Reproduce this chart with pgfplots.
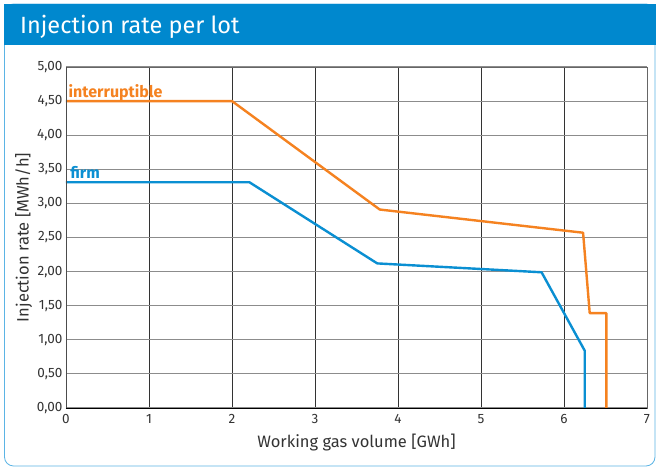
\documentclass[border=0pt]{standalone}
\usepackage{pgfplots}
\pgfplotsset{compat=1.18}
\usepackage{fontspec}
\setmainfont{Fira Sans}
\definecolor{hdrblue}{HTML}{0088CE}
\definecolor{brdblue}{HTML}{5BB4E5}
\definecolor{orng}{HTML}{F58220}
\definecolor{firmblue}{HTML}{0A8FD2}
\definecolor{txt}{HTML}{333333}
\begin{document}
\begin{tikzpicture}[x=1pt,y=1pt]
\useasboundingbox (0,0) rectangle (659,470);
\fill[white] (0,0) rectangle (659,470);
\draw[brdblue, line width=0.8pt, rounded corners=9pt] (4.5,4) rectangle (655,466);
\fill[hdrblue] (4,425) rectangle (655.5,466);
\node[anchor=base west, text=white, font=\fontsize{23.5}{27}\selectfont, inner sep=0pt] at (20,436) {Injection rate per lot};
\begin{axis}[
  at={(66pt,62pt)}, anchor=south west,
  scale only axis, width=581pt, height=341pt,
  xmin=0, xmax=7, ymin=0, ymax=5,
  xtick={0,1,...,7}, ytick={0,0.5,...,5},
  grid=major,
  x grid style={black!80, line width=0.6pt},
  y grid style={black!45, line width=1pt},
  axis line style={black!60, line width=0.8pt},
  tick style={draw=none},
  tick label style={text=txt, font=\fontsize{13.5}{16}\selectfont},
  /pgf/number format/assume math mode=true,
  yticklabel style={/pgf/number format/.cd, fixed, fixed zerofill, precision=2, use comma},
  xticklabel style={/pgf/number format/.cd, fixed, precision=0, /tikz/yshift=-3pt},
  xlabel={Working gas volume [GWh]},
  ylabel={Injection rate [MWh/h]},
  label style={text=txt, font=\fontsize{16.5}{19}\selectfont},
  xlabel style={yshift=-3pt},
  ylabel style={yshift=-2pt},
  clip=false,
]
\addplot[orng, line width=2.4pt, line join=round] coordinates {
  (0,4.5) (2.0,4.5) (3.78,2.91) (6.23,2.57) (6.31,1.39) (6.51,1.39) (6.51,0)};
\addplot[firmblue, line width=2.4pt, line join=round] coordinates {
  (0,3.31) (2.21,3.31) (3.75,2.12) (5.73,1.99) (6.25,0.84) (6.25,0)};
\node[anchor=base west, text=orng, font=\bfseries\fontsize{16}{19}\selectfont, inner sep=0pt] at (axis cs:0.03,4.55) {interruptible};
\node[anchor=base west, text=firmblue, font=\bfseries\fontsize{16}{19}\selectfont, inner sep=0pt] at (axis cs:0.05,3.36) {firm};
\draw[black!70, line width=0.8pt] (axis cs:0,0) -- (axis cs:0,5);
\draw[black, line width=0.8pt] (axis cs:0,0) -- (axis cs:7,0);
\end{axis}
\end{tikzpicture}
\end{document}
